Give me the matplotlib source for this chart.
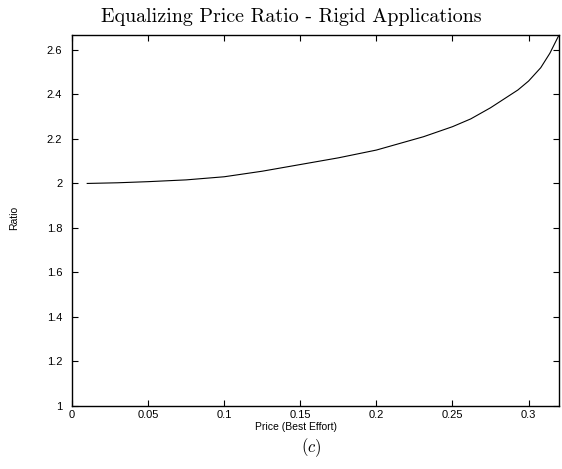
import matplotlib
matplotlib.use("Agg")
import matplotlib.pyplot as plt

# Data
price = [0.01, 0.03, 0.05, 0.075, 0.1, 0.125, 0.15, 0.175, 0.2, 0.231,
         0.25, 0.262, 0.275, 0.293, 0.3, 0.308, 0.314, 0.32]
ratio = [2.000, 2.003, 2.008, 2.016, 2.030, 2.055, 2.085, 2.115, 2.150, 2.210,
         2.255, 2.290, 2.340, 2.420, 2.460, 2.520, 2.585, 2.667]

xticks = [0, 0.05, 0.1, 0.15, 0.2, 0.25, 0.3]
xticklabels = ["0", "0.05", "0.1", "0.15", "0.2", "0.25", "0.3"]
yticks = [1, 1.2, 1.4, 1.6, 1.8, 2, 2.2, 2.4, 2.6]
yticklabels = ["1", "1.2", "1.4", "1.6", "1.8", "2", "2.2", "2.4", "2.6"]

plt.rcParams['mathtext.fontset'] = 'cm'
sans = ['Liberation Sans', 'DejaVu Sans']

W, H = 562, 469
fig = plt.figure(figsize=(W / 100, H / 100), dpi=100)
ax = fig.add_axes([72 / W, 1 - 406 / H, (559 - 72) / W, (406 - 35) / H])

ax.plot(price, ratio, color='black', linewidth=0.8)

ax.set_xlim(0, 0.32)
ax.set_ylim(1, 2.667)
ax.set_xticks(xticks)
ax.set_xticklabels(xticklabels, family=sans, fontsize=8)
ax.set_yticks(yticks)
ax.set_yticklabels(yticklabels, family=sans, fontsize=8)
ax.tick_params(direction='in', top=True, right=True, length=4, width=0.8,
               color='black')
ax.tick_params(axis='x', pad=3)
ax.tick_params(axis='y', pad=7)
for s in ax.spines.values():
    s.set_linewidth(1.0)
    s.set_color('black')

fig.text(291 / W, 1 - 17 / H, "Equalizing Price Ratio - Rigid Applications",
         family='cmr10', fontsize=14.4, ha='center', va='center')
fig.text(296 / W, 1 - 427 / H, "Price (Best Effort)", family=sans,
         fontsize=7.5, ha='center', va='center')
fig.text(14 / W, 1 - 218 / H, "Ratio", family=sans, fontsize=7.5,
         ha='center', va='center', rotation=90)
fig.text(311 / W, 1 - 448 / H, r"$(c)$", fontsize=12, ha='center', va='center')

fig.savefig("out.png", dpi=100)
